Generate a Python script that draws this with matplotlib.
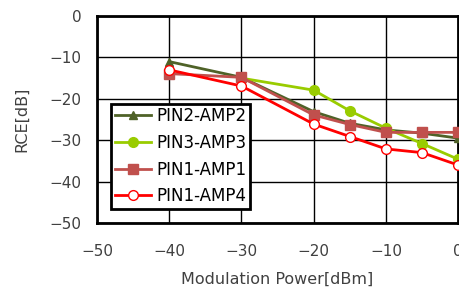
import matplotlib
matplotlib.use("Agg")
import matplotlib.pyplot as plt

x_all = [-40, -30, -20, -15, -10, -5, 0]
x_pin3 = [-30, -20, -15, -10, -5, 0]
pin2_amp2 = [-11.0, -14.8, -23.1, -25.9, -27.5, -28.3, -29.5]
pin3_amp3 = [-15.0, -17.9, -22.9, -27.1, -30.8, -34.6]
pin1_amp1 = [-13.9, -14.8, -23.9, -26.2, -28.1, -28.1, -28.1]
pin1_amp4 = [-13.0, -16.9, -26.1, -29.1, -32.1, -33.0, -36.0]

fig = plt.figure(figsize=(4.6, 2.93), dpi=100)
ax = fig.add_axes([0.211, 0.239, 0.785, 0.706])

ax.plot(x_all, pin2_amp2, color="#4F6228", marker="^", ms=6, lw=2, label="PIN2-AMP2", zorder=3)
ax.plot(x_pin3, pin3_amp3, color="#99CC00", marker="o", ms=7, lw=2, label="PIN3-AMP3", zorder=4)
ax.plot(x_all, pin1_amp1, color="#C0504D", marker="s", ms=6.5, lw=2, label="PIN1-AMP1", zorder=5)
ax.plot(x_all, pin1_amp4, color="#FF0000", marker="o", ms=7, lw=2, mfc="white", mec="#FF0000", label="PIN1-AMP4", zorder=6)

ax.set_xlim(-50, 0)
ax.set_ylim(-50, 0)
ax.set_xticks([-50, -40, -30, -20, -10, 0])
ax.set_yticks([0, -10, -20, -30, -40, -50])
ax.grid(True, color="black", lw=1.0)
ax.set_axisbelow(True)
for s in ax.spines.values():
    s.set_linewidth(2)
    s.set_color("black")
ax.tick_params(axis="x", length=0, labelsize=11, labelcolor="#404040", pad=15)
ax.tick_params(axis="y", length=0, labelsize=11, labelcolor="#404040", pad=11)
ax.set_xlabel("Modulation Power[dBm]", fontsize=11.5, color="#404040", labelpad=9)
ax.set_ylabel("RCE[dB]", fontsize=11.5, color="#404040", labelpad=15)

leg = ax.legend(loc="lower left", bbox_to_anchor=(0.039, 0.068), borderaxespad=0,
                fontsize=12, frameon=True, fancybox=False, edgecolor="black", framealpha=1,
                handlelength=2.2, handletextpad=0.3, borderpad=0.22, labelspacing=0.52)
leg.get_frame().set_linewidth(2)

fig.savefig("out.png", dpi=100)
